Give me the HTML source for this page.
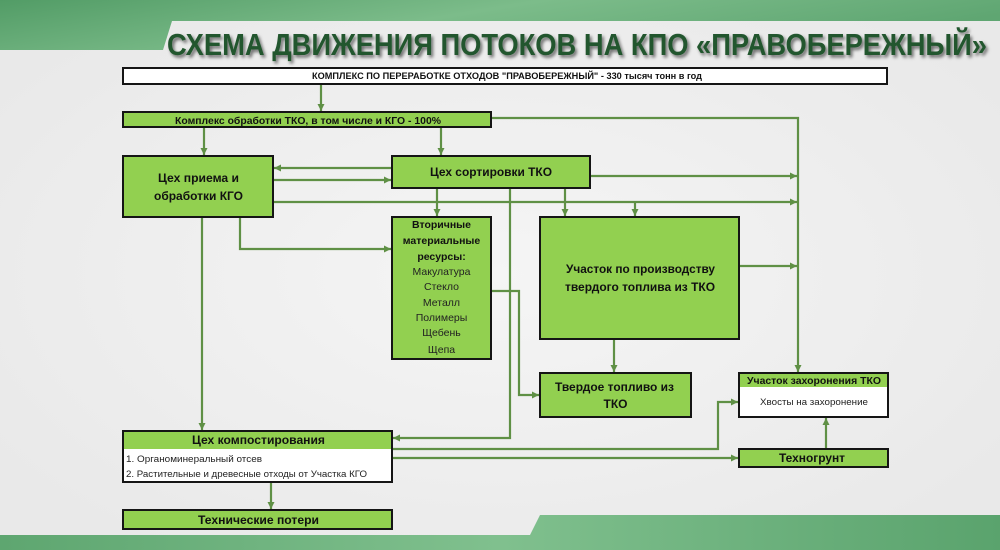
<!DOCTYPE html>
<html>
<head>
<meta charset="utf-8">
<style>
  html,body{margin:0;padding:0;}
  body{width:1000px;height:550px;overflow:hidden;background:#eeeeee;}
  svg{display:block;}
  .b{font-family:"Liberation Sans","Noto Sans CJK SC",sans-serif;font-weight:bold;fill:#111;}
  .r{font-family:"Liberation Sans","Noto Sans CJK SC",sans-serif;fill:#222;}
</style>
</head>
<body>
<svg width="1000" height="550" viewBox="0 0 1000 550" xmlns="http://www.w3.org/2000/svg">
  <defs>
    <radialGradient id="bg" cx="50%" cy="50%" r="60%">
      <stop offset="0" stop-color="#f5f5f5"/>
      <stop offset="1" stop-color="#e9e9e9"/>
    </radialGradient>
    <linearGradient id="gr" x1="0" y1="0" x2="1" y2="0.3">
      <stop offset="0" stop-color="#529c66"/>
      <stop offset="0.5" stop-color="#7cbc8a"/>
      <stop offset="1" stop-color="#5fa672"/>
    </linearGradient>
    <linearGradient id="gr2" x1="0" y1="0" x2="1" y2="0">
      <stop offset="0" stop-color="#5ea670"/>
      <stop offset="0.5" stop-color="#80c08e"/>
      <stop offset="1" stop-color="#5aa36d"/>
    </linearGradient>
    <marker id="ar" markerUnits="userSpaceOnUse" markerWidth="8" markerHeight="8" refX="7" refY="3.5" orient="auto">
      <path d="M0,0 L7,3.5 L0,7 z" fill="#5f9045"/>
    </marker>
    <filter id="sh" x="-5%" y="-30%" width="110%" height="160%">
      <feDropShadow dx="2" dy="2.5" stdDeviation="1.5" flood-color="#000" flood-opacity="0.55"/>
    </filter>
  </defs>

  <!-- background -->
  <rect x="0" y="0" width="1000" height="550" fill="url(#bg)"/>
  <!-- top green band -->
  <path d="M0,0 H1000 V21 H172 L163,50 H0 Z" fill="url(#gr)"/>
  <!-- bottom green band -->
  <path d="M0,535 H530 L540,515 H1000 V550 H0 Z" fill="url(#gr2)"/>

  <!-- title -->
  <text x="167" y="55" class="b" font-size="31" textLength="820" lengthAdjust="spacingAndGlyphs" style="fill:#23562f" filter="url(#sh)">СХЕМА ДВИЖЕНИЯ ПОТОКОВ НА КПО «ПРАВОБЕРЕЖНЫЙ»</text>

  <!-- connectors -->
  <g fill="none" stroke="#5f9045" stroke-width="2.2">
    <path d="M321,84 V111" marker-end="url(#ar)"/>
    <path d="M204,127 V155" marker-end="url(#ar)"/>
    <path d="M441,127 V155" marker-end="url(#ar)"/>
    <path d="M491,118 H798 V372" marker-end="url(#ar)"/>
    <path d="M392,168 H274" marker-end="url(#ar)"/>
    <path d="M273,180 H391" marker-end="url(#ar)"/>
    <path d="M273,202 H797" marker-end="url(#ar)"/>
    <path d="M590,176 H797" marker-end="url(#ar)"/>
    <path d="M437,188 V216" marker-end="url(#ar)"/>
    <path d="M565,188 V216" marker-end="url(#ar)"/>
    <path d="M635,202 V216" marker-end="url(#ar)"/>
    <path d="M739,266 H797" marker-end="url(#ar)"/>
    <path d="M614,339 V372" marker-end="url(#ar)"/>
    <path d="M491,291 H519 V395 H539" marker-end="url(#ar)"/>
    <path d="M510,188 V438 H393" marker-end="url(#ar)"/>
    <path d="M240,217 V249 H391" marker-end="url(#ar)"/>
    <path d="M202,217 V430" marker-end="url(#ar)"/>
    <path d="M392,449 H718 V402 H738" marker-end="url(#ar)"/>
    <path d="M392,458 H738" marker-end="url(#ar)"/>
    <path d="M826,449 V418" marker-end="url(#ar)"/>
    <path d="M271,482 V509" marker-end="url(#ar)"/>
  </g>

  <!-- boxes -->
  <g stroke="#151515" stroke-width="2">
    <rect x="123" y="68" width="764" height="16" fill="#ffffff"/>
    <rect x="123" y="112" width="368" height="15" fill="#92d050"/>
    <rect x="123" y="156" width="150" height="61" fill="#92d050"/>
    <rect x="392" y="156" width="198" height="32" fill="#92d050"/>
    <rect x="392" y="217" width="99" height="142" fill="#92d050"/>
    <rect x="540" y="217" width="199" height="122" fill="#92d050"/>
    <rect x="540" y="373" width="151" height="44" fill="#92d050"/>
    <rect x="739" y="449" width="149" height="18" fill="#92d050"/>
    <rect x="123" y="510" width="269" height="19" fill="#92d050"/>
  </g>
  <!-- box with header: захоронение -->
  <rect x="739" y="373" width="149" height="14" fill="#92d050"/>
  <rect x="739" y="387" width="149" height="30" fill="#ffffff"/>
  <rect x="739" y="373" width="149" height="44" fill="none" stroke="#151515" stroke-width="2"/>
  <!-- box with header: компостирование -->
  <rect x="123" y="431" width="269" height="18" fill="#92d050"/>
  <rect x="123" y="449" width="269" height="33" fill="#ffffff"/>
  <rect x="123" y="431" width="269" height="51" fill="none" stroke="#151515" stroke-width="2"/>

  <!-- texts -->
  <text x="312" y="79" class="b" font-size="9" textLength="390" lengthAdjust="spacingAndGlyphs">КОМПЛЕКС ПО ПЕРЕРАБОТКЕ ОТХОДОВ "ПРАВОБЕРЕЖНЫЙ" - 330 тысяч тонн в год</text>
  <text x="175" y="124" class="b" font-size="10.5" textLength="266" lengthAdjust="spacingAndGlyphs">Комплекс обработки ТКО, в том числе и КГО - 100%</text>

  <text x="158" y="182" class="b" font-size="12" textLength="81" lengthAdjust="spacingAndGlyphs">Цех приема и</text>
  <text x="154" y="200" class="b" font-size="12" textLength="89" lengthAdjust="spacingAndGlyphs">обработки КГО</text>

  <text x="430" y="176" class="b" font-size="12" textLength="122" lengthAdjust="spacingAndGlyphs">Цех сортировки ТКО</text>

  <g text-anchor="middle">
    <text x="441.5" y="228" class="b" font-size="10.5">Вторичные</text>
    <text x="441.5" y="244" class="b" font-size="10.5">материальные</text>
    <text x="441.5" y="260" class="b" font-size="10.5">ресурсы:</text>
    <text x="441.5" y="275" class="r" font-size="10.5">Макулатура</text>
    <text x="441.5" y="290" class="r" font-size="10.5">Стекло</text>
    <text x="441.5" y="306" class="r" font-size="10.5">Металл</text>
    <text x="441.5" y="321" class="r" font-size="10.5">Полимеры</text>
    <text x="441.5" y="336" class="r" font-size="10.5">Щебень</text>
    <text x="441.5" y="353" class="r" font-size="10.5">Щепа</text>
  </g>

  <text x="566" y="273" class="b" font-size="11.5" textLength="149" lengthAdjust="spacingAndGlyphs">Участок по производству</text>
  <text x="565" y="291" class="b" font-size="11.5" textLength="150" lengthAdjust="spacingAndGlyphs">твердого топлива из ТКО</text>

  <text x="555" y="391" class="b" font-size="12" textLength="119" lengthAdjust="spacingAndGlyphs">Твердое топливо из</text>
  <text x="615.5" y="408" class="b" font-size="12" text-anchor="middle">ТКО</text>

  <text x="747" y="384" class="b" font-size="10" textLength="134" lengthAdjust="spacingAndGlyphs">Участок захоронения ТКО</text>
  <text x="760" y="405" class="r" font-size="9" textLength="108" lengthAdjust="spacingAndGlyphs">Хвосты на захоронение</text>

  <text x="779" y="462" class="b" font-size="12" textLength="66" lengthAdjust="spacingAndGlyphs">Техногрунт</text>

  <text x="192" y="444" class="b" font-size="12" textLength="133" lengthAdjust="spacingAndGlyphs">Цех компостирования</text>
  <text x="126" y="462" class="r" font-size="9" textLength="136" lengthAdjust="spacingAndGlyphs">1. Органоминеральный отсев</text>
  <text x="126" y="477" class="r" font-size="9" textLength="241" lengthAdjust="spacingAndGlyphs">2. Растительные и древесные отходы от Участка КГО</text>

  <text x="198" y="524" class="b" font-size="12" textLength="121" lengthAdjust="spacingAndGlyphs">Технические потери</text>
</svg>
</body>
</html>
